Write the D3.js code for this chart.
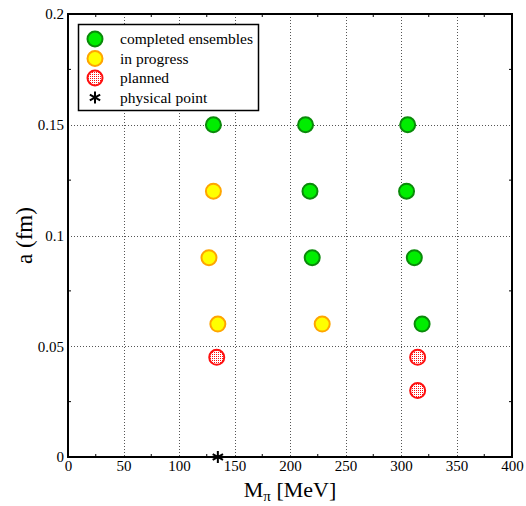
<!DOCTYPE html>
<html>
<head>
<meta charset="utf-8">
<script src="https://cdn.jsdelivr.net/npm/d3@7"></script>
<style>
  body { margin: 0; background: #fff; }
  text { font-family: "Liberation Serif", "DejaVu Serif", serif; }
</style>
</head>
<body>
<div id="chart"></div>
<script>
'use strict';

// ensembles: [M_pi (MeV), a (fm)]
const completed = [[131, 0.15], [214, 0.15], [306, 0.15],
                   [218, 0.12], [305, 0.12],
                   [220, 0.09], [312, 0.09],
                   [319, 0.06]];
const inProgress = [[131, 0.12], [127, 0.09], [135, 0.06], [229, 0.06]];
const planned = [[134, 0.045], [315, 0.045], [315, 0.03]];
const physical = [[135, 0]];

const xTicks = [0, 50, 100, 150, 200, 250, 300, 350, 400];
const yTicks = [0, 0.05, 0.1, 0.15, 0.2];
const xMinor = [25, 75, 125, 175, 225, 275, 325, 375];
const yMinor = [0.025, 0.075, 0.125, 0.175];
const legendLabels = ['completed ensembles', 'in progress', 'planned', 'physical point'];

const width = 526, height = 506;
const pLeft = 68, pRight = 512, pTop = 14, pBottom = 457;

const x = d3.scaleLinear().domain([0, 400]).range([pLeft, pRight]);
const y = d3.scaleLinear().domain([0, 0.2]).range([pBottom, pTop]);

const svg = d3.select('#chart').append('svg')
    .attr('width', width)
    .attr('height', height);

const defs = svg.append('defs');
const pat = defs.append('pattern')
    .attr('id', 'dots')
    .attr('patternUnits', 'userSpaceOnUse')
    .attr('width', 2).attr('height', 2);
pat.append('rect').attr('width', 2).attr('height', 2).attr('fill', '#fff');
pat.append('rect').attr('width', 1).attr('height', 1).attr('fill', '#ff1010');

// grid
const grid = svg.append('g').attr('stroke', '#555').attr('stroke-width', 1)
    .attr('stroke-dasharray', '1,2');
grid.selectAll('.gx').data(xTicks.slice(1, -1)).enter().append('line')
    .attr('x1', d => Math.round(x(d)) + 0.5).attr('x2', d => Math.round(x(d)) + 0.5)
    .attr('y1', pTop).attr('y2', pBottom);
grid.selectAll('.gy').data(yTicks.slice(1, -1)).enter().append('line')
    .attr('y1', d => Math.round(y(d)) + 0.5).attr('y2', d => Math.round(y(d)) + 0.5)
    .attr('x1', pLeft).attr('x2', pRight);

// minor ticks (inside, all four sides)
const mt = svg.append('g').attr('stroke', '#000').attr('stroke-width', 1);
xMinor.forEach(function(d) {
    mt.append('line').attr('x1', x(d)).attr('x2', x(d)).attr('y1', pBottom).attr('y2', pBottom - 3);
    mt.append('line').attr('x1', x(d)).attr('x2', x(d)).attr('y1', pTop).attr('y2', pTop + 3);
});
yMinor.forEach(function(d) {
    mt.append('line').attr('y1', y(d)).attr('y2', y(d)).attr('x1', pLeft).attr('x2', pLeft + 3);
    mt.append('line').attr('y1', y(d)).attr('y2', y(d)).attr('x1', pRight).attr('x2', pRight - 3);
});

// tick labels via d3 axes
const xAxis = svg.append('g')
    .attr('transform', 'translate(0,' + pBottom + ')')
    .call(d3.axisBottom(x).tickValues(xTicks).tickSize(0).tickPadding(3).tickFormat(d3.format('d')));
const yAxis = svg.append('g')
    .attr('transform', 'translate(' + pLeft + ',0)')
    .call(d3.axisLeft(y).tickValues(yTicks).tickSize(0).tickPadding(4).tickFormat(d => d === 0 ? '0' : String(+d.toFixed(3))));
[xAxis, yAxis].forEach(function(a) {
    a.select('.domain').remove();
    a.selectAll('text').attr('font-size', 15).attr('fill', '#000')
        .style('font-family', '"Liberation Serif", serif');
});
yAxis.selectAll('text').attr('dy', '0.32em');
xAxis.selectAll('text').attr('dy', '0.75em');

// frame
svg.append('rect')
    .attr('x', pLeft).attr('y', pTop)
    .attr('width', pRight - pLeft).attr('height', pBottom - pTop)
    .attr('fill', 'none').attr('stroke', '#000').attr('stroke-width', 2);

// axis titles
svg.append('text')
    .attr('transform', 'translate(32,' + (pTop + pBottom) / 2 + ') rotate(-90)')
    .attr('text-anchor', 'middle')
    .attr('font-size', 23)
    .text('a (fm)');
const xt = svg.append('text')
    .attr('x', (pLeft + pRight) / 2).attr('y', 497)
    .attr('text-anchor', 'middle')
    .attr('font-size', 22);
xt.append('tspan').text('M');
xt.append('tspan').attr('font-size', 15).attr('dy', 4).text('π');
xt.append('tspan').attr('dy', -4).text(' [MeV]');

// markers
const r = 7.5;
function circles(data, fill, stroke) {
    svg.append('g').selectAll('circle').data(data).enter().append('circle')
        .attr('cx', d => x(d[0])).attr('cy', d => y(d[1])).attr('r', r)
        .attr('fill', fill).attr('stroke', stroke).attr('stroke-width', 2);
}
circles(completed, '#00ee00', '#0a8a0a');
circles(inProgress, '#ffff00', '#ffa500');
circles(planned, 'url(#dots)', '#ff1010');

const star = d3.symbol().type(d3.symbolAsterisk).size(100);
svg.append('g').selectAll('path').data(physical).enter().append('path')
    .attr('d', star)
    .attr('transform', d => 'translate(' + x(d[0]) + ',' + y(d[1]) + ')')
    .attr('stroke', '#000').attr('stroke-width', 2);

// legend
const lg = svg.append('g');
lg.append('rect')
    .attr('x', 78.5).attr('y', 24.5).attr('width', 180).attr('height', 86)
    .attr('fill', '#fff').attr('stroke', '#000').attr('stroke-width', 1.5);
const styles = [['#00ee00', '#0a8a0a'], ['#ffff00', '#ffa500'], ['url(#dots)', '#ff1010']];
legendLabels.forEach(function(lab, i) {
    const ly = 39 + i * 19.5;
    if (i < 3) {
        lg.append('circle').attr('cx', 95).attr('cy', ly).attr('r', r)
            .attr('fill', styles[i][0]).attr('stroke', styles[i][1]).attr('stroke-width', 2);
    } else {
        lg.append('path').attr('d', star).attr('transform', 'translate(95,' + ly + ')')
            .attr('stroke', '#000').attr('stroke-width', 2);
    }
    lg.append('text').attr('x', 120).attr('y', ly + 5)
        .attr('font-size', 15.5).text(lab);
});
</script>
</body>
</html>
